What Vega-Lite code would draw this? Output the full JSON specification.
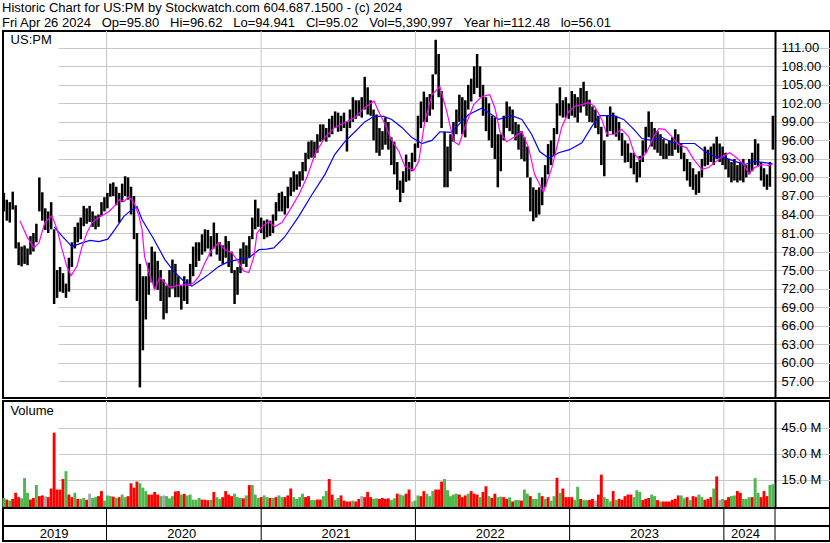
{
"$schema": "https://vega.github.io/schema/vega-lite/v6.json",
"background": "white",
"padding": {"left": 1, "top": 2, "right": 0, "bottom": 0},
"config": {
  "view": {"stroke": "black", "strokeWidth": 2},
  "axis": {"labelFont": "Liberation Sans", "labelFontSize": 13, "labelColor": "black", "gridColor": "#c8c8c8", "gridWidth": 1, "ticks": false, "labelOverlap": false},
  "text": {"font": "Liberation Sans"}
},
"title": {
  "text": "Historic Chart for US:PM by Stockwatch.com 604.687.1500 - (c) 2024",
  "subtitle": "Fri Apr 26 2024\u00a0\u00a0\u00a0Op=95.80\u00a0\u00a0\u00a0Hi=96.62\u00a0\u00a0\u00a0Lo=94.941\u00a0\u00a0\u00a0Cl=95.02\u00a0\u00a0\u00a0Vol=5,390,997\u00a0\u00a0\u00a0Year hi=112.48\u00a0\u00a0\u00a0lo=56.01",
  "anchor": "start", "frame": "group", "font": "Liberation Sans", "fontSize": 13, "fontWeight": "normal", "color": "black",
  "subtitleFont": "Liberation Sans", "subtitleFontSize": 13, "subtitleColor": "black", "subtitlePadding": 1.5, "offset": 0, "dx": -1
},
"datasets": {
  "w": [
{"d":"2019-05-03","h":87.5,"l":84.5,"v":4.5,"c":"g"},
{"d":"2019-05-10","h":86.4,"l":83.0,"v":3.6,"c":"r"},
{"d":"2019-05-17","h":86.0,"l":82.7,"v":3.0,"c":"g"},
{"d":"2019-05-24","h":87.7,"l":84.8,"v":4.0,"c":"r"},
{"d":"2019-05-31","h":85.5,"l":78.5,"v":7.5,"c":"r"},
{"d":"2019-06-07","h":79.5,"l":75.8,"v":5.0,"c":"r"},
{"d":"2019-06-14","h":78.8,"l":75.6,"v":4.3,"c":"g"},
{"d":"2019-06-21","h":79.0,"l":76.0,"v":16.0,"c":"g"},
{"d":"2019-06-28","h":78.5,"l":75.8,"v":7.5,"c":"g"},
{"d":"2019-07-05","h":80.5,"l":77.5,"v":3.6,"c":"r"},
{"d":"2019-07-12","h":81.0,"l":78.0,"v":4.5,"c":"r"},
{"d":"2019-07-19","h":82.5,"l":79.5,"v":12.0,"c":"g"},
{"d":"2019-07-26","h":90.0,"l":84.5,"v":5.6,"c":"r"},
{"d":"2019-08-02","h":87.6,"l":83.0,"v":6.0,"c":"r"},
{"d":"2019-08-09","h":85.0,"l":81.5,"v":5.5,"c":"n"},
{"d":"2019-08-16","h":84.5,"l":81.0,"v":5.0,"c":"r"},
{"d":"2019-08-23","h":86.0,"l":81.6,"v":10.0,"c":"r"},
{"d":"2019-08-30","h":81.6,"l":69.5,"v":42.3,"c":"r"},
{"d":"2019-09-06","h":75.0,"l":70.5,"v":9.4,"c":"r"},
{"d":"2019-09-13","h":75.5,"l":71.5,"v":9.4,"c":"r"},
{"d":"2019-09-20","h":74.5,"l":71.3,"v":15.5,"c":"r"},
{"d":"2019-09-27","h":72.8,"l":70.5,"v":20.0,"c":"g"},
{"d":"2019-10-04","h":77.0,"l":71.5,"v":6.5,"c":"r"},
{"d":"2019-10-11","h":79.5,"l":75.5,"v":5.0,"c":"r"},
{"d":"2019-10-18","h":82.0,"l":78.5,"v":7.5,"c":"g"},
{"d":"2019-10-25","h":82.7,"l":79.5,"v":4.0,"c":"r"},
{"d":"2019-11-01","h":83.5,"l":80.0,"v":4.0,"c":"g"},
{"d":"2019-11-08","h":85.4,"l":82.1,"v":4.5,"c":"g"},
{"d":"2019-11-15","h":85.0,"l":82.5,"v":3.5,"c":"r"},
{"d":"2019-11-22","h":85.4,"l":82.8,"v":7.0,"c":"n"},
{"d":"2019-11-29","h":84.5,"l":82.0,"v":4.5,"c":"g"},
{"d":"2019-12-06","h":83.8,"l":81.6,"v":5.0,"c":"g"},
{"d":"2019-12-13","h":84.0,"l":82.0,"v":5.6,"c":"r"},
{"d":"2019-12-20","h":86.0,"l":83.8,"v":8.5,"c":"r"},
{"d":"2019-12-27","h":86.8,"l":84.5,"v":3.0,"c":"g"},
{"d":"2020-01-03","h":87.5,"l":85.0,"v":6.0,"c":"g"},
{"d":"2020-01-10","h":89.0,"l":86.9,"v":5.6,"c":"g"},
{"d":"2020-01-17","h":89.2,"l":87.0,"v":5.3,"c":"r"},
{"d":"2020-01-24","h":88.5,"l":85.5,"v":4.5,"c":"g"},
{"d":"2020-01-31","h":87.5,"l":82.7,"v":5.0,"c":"r"},
{"d":"2020-02-07","h":89.0,"l":86.0,"v":6.5,"c":"g"},
{"d":"2020-02-14","h":90.2,"l":87.0,"v":5.0,"c":"g"},
{"d":"2020-02-21","h":90.0,"l":86.4,"v":5.6,"c":"r"},
{"d":"2020-02-28","h":88.5,"l":84.0,"v":13.0,"c":"r"},
{"d":"2020-03-06","h":87.0,"l":80.0,"v":10.5,"c":"r"},
{"d":"2020-03-13","h":81.0,"l":70.0,"v":14.0,"c":"r"},
{"d":"2020-03-20","h":76.0,"l":56.0,"v":13.0,"c":"g"},
{"d":"2020-03-27","h":74.0,"l":62.0,"v":10.5,"c":"g"},
{"d":"2020-04-03","h":74.0,"l":67.0,"v":8.5,"c":"g"},
{"d":"2020-04-10","h":76.2,"l":71.0,"v":6.5,"c":"r"},
{"d":"2020-04-17","h":78.8,"l":73.0,"v":6.5,"c":"r"},
{"d":"2020-04-24","h":78.0,"l":72.0,"v":8.0,"c":"r"},
{"d":"2020-05-01","h":76.5,"l":71.8,"v":6.5,"c":"r"},
{"d":"2020-05-08","h":75.0,"l":70.0,"v":5.6,"c":"g"},
{"d":"2020-05-15","h":73.5,"l":67.0,"v":6.0,"c":"n"},
{"d":"2020-05-22","h":72.5,"l":68.0,"v":5.6,"c":"g"},
{"d":"2020-05-29","h":75.0,"l":70.6,"v":4.3,"c":"g"},
{"d":"2020-06-05","h":76.7,"l":72.0,"v":5.6,"c":"g"},
{"d":"2020-06-12","h":76.0,"l":70.6,"v":8.3,"c":"r"},
{"d":"2020-06-19","h":74.0,"l":70.6,"v":8.5,"c":"r"},
{"d":"2020-06-26","h":72.5,"l":68.6,"v":6.5,"c":"g"},
{"d":"2020-07-03","h":74.0,"l":70.0,"v":6.9,"c":"r"},
{"d":"2020-07-10","h":73.5,"l":69.5,"v":6.0,"c":"g"},
{"d":"2020-07-17","h":76.0,"l":72.5,"v":6.5,"c":"g"},
{"d":"2020-07-24","h":78.8,"l":74.0,"v":3.6,"c":"g"},
{"d":"2020-07-31","h":79.5,"l":75.5,"v":3.5,"c":"g"},
{"d":"2020-08-07","h":79.5,"l":76.5,"v":4.5,"c":"g"},
{"d":"2020-08-14","h":80.8,"l":77.5,"v":3.6,"c":"r"},
{"d":"2020-08-21","h":81.6,"l":78.0,"v":3.5,"c":"r"},
{"d":"2020-08-28","h":81.5,"l":78.5,"v":3.2,"c":"r"},
{"d":"2020-09-04","h":80.5,"l":77.2,"v":3.5,"c":"g"},
{"d":"2020-09-11","h":82.7,"l":78.5,"v":8.0,"c":"r"},
{"d":"2020-09-18","h":81.0,"l":77.5,"v":5.0,"c":"g"},
{"d":"2020-09-25","h":79.5,"l":76.5,"v":4.0,"c":"g"},
{"d":"2020-10-02","h":79.0,"l":76.0,"v":5.0,"c":"r"},
{"d":"2020-10-09","h":80.5,"l":77.0,"v":8.5,"c":"r"},
{"d":"2020-10-16","h":79.7,"l":75.5,"v":6.5,"c":"r"},
{"d":"2020-10-23","h":78.0,"l":74.5,"v":5.6,"c":"r"},
{"d":"2020-10-30","h":75.0,"l":69.5,"v":7.0,"c":"g"},
{"d":"2020-11-06","h":75.5,"l":71.0,"v":5.0,"c":"g"},
{"d":"2020-11-13","h":78.5,"l":74.5,"v":4.5,"c":"g"},
{"d":"2020-11-20","h":79.5,"l":76.0,"v":4.3,"c":"r"},
{"d":"2020-11-27","h":79.0,"l":75.5,"v":6.0,"c":"g"},
{"d":"2020-12-04","h":80.5,"l":77.0,"v":12.0,"c":"r"},
{"d":"2020-12-11","h":83.5,"l":80.0,"v":12.0,"c":"g"},
{"d":"2020-12-18","h":86.4,"l":81.6,"v":6.5,"c":"g"},
{"d":"2020-12-25","h":85.0,"l":82.0,"v":4.5,"c":"g"},
{"d":"2021-01-01","h":83.5,"l":81.0,"v":5.0,"c":"r"},
{"d":"2021-01-08","h":83.0,"l":80.0,"v":6.0,"c":"g"},
{"d":"2021-01-15","h":83.2,"l":80.3,"v":5.0,"c":"g"},
{"d":"2021-01-22","h":83.0,"l":80.5,"v":4.5,"c":"r"},
{"d":"2021-01-29","h":84.0,"l":81.0,"v":4.5,"c":"g"},
{"d":"2021-02-05","h":86.0,"l":83.0,"v":5.0,"c":"r"},
{"d":"2021-02-12","h":87.5,"l":84.5,"v":6.0,"c":"g"},
{"d":"2021-02-19","h":87.7,"l":84.5,"v":5.0,"c":"g"},
{"d":"2021-02-26","h":87.0,"l":84.0,"v":5.0,"c":"r"},
{"d":"2021-03-05","h":88.5,"l":85.0,"v":6.0,"c":"r"},
{"d":"2021-03-12","h":90.0,"l":87.0,"v":10.0,"c":"r"},
{"d":"2021-03-19","h":91.0,"l":87.7,"v":5.0,"c":"g"},
{"d":"2021-03-26","h":90.5,"l":88.0,"v":4.0,"c":"g"},
{"d":"2021-04-02","h":91.0,"l":88.5,"v":5.0,"c":"g"},
{"d":"2021-04-09","h":92.5,"l":89.5,"v":7.0,"c":"g"},
{"d":"2021-04-16","h":94.0,"l":91.0,"v":5.0,"c":"r"},
{"d":"2021-04-23","h":95.8,"l":93.0,"v":5.6,"c":"r"},
{"d":"2021-04-30","h":96.0,"l":93.2,"v":3.3,"c":"g"},
{"d":"2021-05-07","h":95.8,"l":93.2,"v":3.3,"c":"g"},
{"d":"2021-05-14","h":97.0,"l":94.0,"v":3.6,"c":"r"},
{"d":"2021-05-21","h":98.6,"l":95.8,"v":3.6,"c":"r"},
{"d":"2021-05-28","h":98.6,"l":96.0,"v":5.6,"c":"g"},
{"d":"2021-06-04","h":98.0,"l":95.8,"v":8.5,"c":"g"},
{"d":"2021-06-11","h":99.5,"l":96.5,"v":15.5,"c":"r"},
{"d":"2021-06-18","h":100.0,"l":97.0,"v":6.5,"c":"r"},
{"d":"2021-06-25","h":100.7,"l":98.0,"v":3.5,"c":"g"},
{"d":"2021-07-02","h":100.5,"l":97.4,"v":4.5,"c":"g"},
{"d":"2021-07-09","h":100.0,"l":97.5,"v":6.0,"c":"r"},
{"d":"2021-07-16","h":100.5,"l":98.0,"v":3.0,"c":"r"},
{"d":"2021-07-23","h":99.0,"l":94.2,"v":2.5,"c":"r"},
{"d":"2021-07-30","h":101.0,"l":98.0,"v":2.5,"c":"r"},
{"d":"2021-08-06","h":103.0,"l":99.0,"v":3.0,"c":"g"},
{"d":"2021-08-13","h":102.5,"l":99.5,"v":2.5,"c":"r"},
{"d":"2021-08-20","h":102.5,"l":100.0,"v":4.0,"c":"r"},
{"d":"2021-08-27","h":103.0,"l":99.7,"v":5.6,"c":"n"},
{"d":"2021-09-03","h":106.3,"l":101.0,"v":5.0,"c":"r"},
{"d":"2021-09-10","h":104.6,"l":100.2,"v":8.0,"c":"r"},
{"d":"2021-09-17","h":102.5,"l":100.0,"v":5.0,"c":"r"},
{"d":"2021-09-24","h":101.0,"l":96.0,"v":4.0,"c":"g"},
{"d":"2021-10-01","h":100.2,"l":94.0,"v":4.3,"c":"g"},
{"d":"2021-10-08","h":98.0,"l":93.5,"v":4.0,"c":"r"},
{"d":"2021-10-15","h":97.5,"l":94.5,"v":4.5,"c":"r"},
{"d":"2021-10-22","h":99.7,"l":95.3,"v":4.0,"c":"r"},
{"d":"2021-10-29","h":99.0,"l":94.5,"v":4.3,"c":"r"},
{"d":"2021-11-05","h":96.5,"l":92.0,"v":3.3,"c":"g"},
{"d":"2021-11-12","h":95.8,"l":90.5,"v":4.3,"c":"g"},
{"d":"2021-11-19","h":92.5,"l":88.0,"v":7.0,"c":"r"},
{"d":"2021-11-26","h":89.5,"l":86.0,"v":6.5,"c":"g"},
{"d":"2021-12-03","h":91.0,"l":87.5,"v":6.0,"c":"g"},
{"d":"2021-12-10","h":93.7,"l":89.3,"v":7.0,"c":"r"},
{"d":"2021-12-17","h":92.5,"l":89.5,"v":9.4,"c":"r"},
{"d":"2021-12-24","h":94.0,"l":91.0,"v":2.5,"c":"n"},
{"d":"2021-12-31","h":95.5,"l":92.5,"v":3.0,"c":"g"},
{"d":"2022-01-07","h":100.0,"l":94.8,"v":6.0,"c":"g"},
{"d":"2022-01-14","h":102.3,"l":98.0,"v":5.6,"c":"r"},
{"d":"2022-01-21","h":103.9,"l":99.0,"v":8.5,"c":"r"},
{"d":"2022-01-28","h":103.0,"l":99.0,"v":7.0,"c":"g"},
{"d":"2022-02-04","h":103.5,"l":100.0,"v":5.6,"c":"g"},
{"d":"2022-02-11","h":106.7,"l":101.0,"v":8.5,"c":"g"},
{"d":"2022-02-18","h":112.3,"l":106.7,"v":9.4,"c":"r"},
{"d":"2022-02-25","h":110.0,"l":103.0,"v":9.4,"c":"r"},
{"d":"2022-03-04","h":104.0,"l":98.0,"v":14.0,"c":"r"},
{"d":"2022-03-11","h":97.4,"l":88.4,"v":15.5,"c":"g"},
{"d":"2022-03-18","h":95.0,"l":88.4,"v":9.0,"c":"g"},
{"d":"2022-03-25","h":97.0,"l":91.0,"v":5.6,"c":"g"},
{"d":"2022-04-01","h":99.0,"l":95.8,"v":6.5,"c":"g"},
{"d":"2022-04-08","h":101.0,"l":97.0,"v":7.0,"c":"g"},
{"d":"2022-04-15","h":103.4,"l":99.0,"v":6.5,"c":"r"},
{"d":"2022-04-22","h":103.0,"l":97.0,"v":5.0,"c":"r"},
{"d":"2022-04-29","h":102.5,"l":96.5,"v":6.0,"c":"r"},
{"d":"2022-05-06","h":105.0,"l":101.0,"v":7.0,"c":"g"},
{"d":"2022-05-13","h":106.0,"l":102.3,"v":8.5,"c":"r"},
{"d":"2022-05-20","h":108.0,"l":103.5,"v":7.0,"c":"r"},
{"d":"2022-05-27","h":110.0,"l":104.5,"v":6.5,"c":"r"},
{"d":"2022-06-03","h":108.0,"l":103.0,"v":5.0,"c":"g"},
{"d":"2022-06-10","h":105.0,"l":100.0,"v":8.0,"c":"r"},
{"d":"2022-06-17","h":103.0,"l":97.5,"v":11.3,"c":"r"},
{"d":"2022-06-24","h":102.0,"l":96.0,"v":5.6,"c":"g"},
{"d":"2022-07-01","h":100.0,"l":94.8,"v":4.5,"c":"r"},
{"d":"2022-07-08","h":99.7,"l":93.0,"v":7.0,"c":"r"},
{"d":"2022-07-15","h":97.0,"l":88.4,"v":5.0,"c":"g"},
{"d":"2022-07-22","h":97.0,"l":91.0,"v":5.3,"c":"g"},
{"d":"2022-07-29","h":100.0,"l":96.0,"v":5.0,"c":"r"},
{"d":"2022-08-05","h":102.3,"l":98.0,"v":4.0,"c":"r"},
{"d":"2022-08-12","h":101.5,"l":97.5,"v":5.0,"c":"g"},
{"d":"2022-08-19","h":101.0,"l":97.0,"v":2.5,"c":"r"},
{"d":"2022-08-26","h":99.0,"l":96.0,"v":3.3,"c":"g"},
{"d":"2022-09-02","h":98.6,"l":94.5,"v":3.3,"c":"g"},
{"d":"2022-09-09","h":97.5,"l":93.0,"v":3.0,"c":"r"},
{"d":"2022-09-16","h":96.5,"l":92.6,"v":9.4,"c":"g"},
{"d":"2022-09-23","h":95.0,"l":90.0,"v":7.0,"c":"g"},
{"d":"2022-09-30","h":90.0,"l":84.5,"v":5.6,"c":"r"},
{"d":"2022-10-07","h":88.4,"l":82.9,"v":4.0,"c":"g"},
{"d":"2022-10-14","h":88.0,"l":83.5,"v":4.0,"c":"g"},
{"d":"2022-10-21","h":88.4,"l":84.0,"v":7.5,"c":"g"},
{"d":"2022-10-28","h":90.0,"l":85.5,"v":5.6,"c":"r"},
{"d":"2022-11-04","h":92.0,"l":88.4,"v":4.0,"c":"g"},
{"d":"2022-11-11","h":95.4,"l":90.5,"v":5.0,"c":"r"},
{"d":"2022-11-18","h":96.0,"l":92.0,"v":3.0,"c":"g"},
{"d":"2022-11-25","h":98.0,"l":93.5,"v":5.6,"c":"g"},
{"d":"2022-12-02","h":102.0,"l":97.0,"v":16.2,"c":"r"},
{"d":"2022-12-09","h":104.6,"l":100.0,"v":7.5,"c":"g"},
{"d":"2022-12-16","h":102.5,"l":99.7,"v":10.0,"c":"r"},
{"d":"2022-12-23","h":103.0,"l":99.7,"v":5.0,"c":"r"},
{"d":"2022-12-30","h":102.0,"l":99.5,"v":5.0,"c":"r"},
{"d":"2023-01-06","h":104.0,"l":100.0,"v":5.0,"c":"r"},
{"d":"2023-01-13","h":103.5,"l":99.7,"v":3.5,"c":"g"},
{"d":"2023-01-20","h":103.0,"l":98.9,"v":11.0,"c":"g"},
{"d":"2023-01-27","h":104.5,"l":100.5,"v":4.0,"c":"r"},
{"d":"2023-02-03","h":105.5,"l":101.5,"v":3.3,"c":"g"},
{"d":"2023-02-10","h":104.0,"l":100.0,"v":3.3,"c":"g"},
{"d":"2023-02-17","h":102.6,"l":99.0,"v":3.3,"c":"r"},
{"d":"2023-02-24","h":101.5,"l":98.9,"v":4.0,"c":"r"},
{"d":"2023-03-03","h":101.0,"l":98.0,"v":3.0,"c":"n"},
{"d":"2023-03-10","h":100.0,"l":97.0,"v":6.5,"c":"r"},
{"d":"2023-03-17","h":98.2,"l":92.0,"v":18.0,"c":"r"},
{"d":"2023-03-24","h":96.0,"l":90.2,"v":5.0,"c":"g"},
{"d":"2023-03-31","h":100.0,"l":96.6,"v":4.0,"c":"g"},
{"d":"2023-04-07","h":101.5,"l":97.5,"v":2.5,"c":"g"},
{"d":"2023-04-14","h":100.5,"l":97.0,"v":8.5,"c":"r"},
{"d":"2023-04-21","h":100.0,"l":96.6,"v":3.3,"c":"g"},
{"d":"2023-04-28","h":99.0,"l":96.0,"v":4.0,"c":"r"},
{"d":"2023-05-05","h":97.2,"l":93.5,"v":3.5,"c":"r"},
{"d":"2023-05-12","h":96.0,"l":92.4,"v":5.6,"c":"r"},
{"d":"2023-05-19","h":95.5,"l":92.5,"v":6.5,"c":"r"},
{"d":"2023-05-26","h":94.0,"l":91.5,"v":6.5,"c":"r"},
{"d":"2023-06-02","h":94.0,"l":90.5,"v":5.0,"c":"g"},
{"d":"2023-06-09","h":92.5,"l":89.2,"v":9.0,"c":"g"},
{"d":"2023-06-16","h":93.5,"l":90.0,"v":8.0,"c":"g"},
{"d":"2023-06-23","h":96.0,"l":92.5,"v":3.3,"c":"r"},
{"d":"2023-06-30","h":98.2,"l":94.0,"v":4.0,"c":"r"},
{"d":"2023-07-07","h":100.7,"l":96.5,"v":4.5,"c":"r"},
{"d":"2023-07-14","h":99.0,"l":95.0,"v":6.5,"c":"g"},
{"d":"2023-07-21","h":98.0,"l":94.5,"v":5.6,"c":"g"},
{"d":"2023-07-28","h":97.5,"l":94.0,"v":3.3,"c":"r"},
{"d":"2023-08-04","h":97.0,"l":93.5,"v":2.5,"c":"g"},
{"d":"2023-08-11","h":96.2,"l":93.0,"v":2.5,"c":"r"},
{"d":"2023-08-18","h":95.5,"l":93.0,"v":2.5,"c":"r"},
{"d":"2023-08-25","h":96.0,"l":93.5,"v":2.5,"c":"r"},
{"d":"2023-09-01","h":96.5,"l":93.5,"v":3.5,"c":"r"},
{"d":"2023-09-08","h":97.8,"l":94.5,"v":4.0,"c":"r"},
{"d":"2023-09-15","h":97.0,"l":94.0,"v":6.0,"c":"r"},
{"d":"2023-09-22","h":95.5,"l":93.0,"v":6.0,"c":"g"},
{"d":"2023-09-29","h":94.0,"l":91.0,"v":4.3,"c":"g"},
{"d":"2023-10-06","h":93.0,"l":89.5,"v":5.0,"c":"r"},
{"d":"2023-10-13","h":92.5,"l":88.5,"v":3.3,"c":"g"},
{"d":"2023-10-20","h":91.5,"l":88.0,"v":5.6,"c":"r"},
{"d":"2023-10-27","h":90.5,"l":87.2,"v":5.0,"c":"r"},
{"d":"2023-11-03","h":91.0,"l":87.5,"v":6.5,"c":"g"},
{"d":"2023-11-10","h":93.0,"l":90.0,"v":5.0,"c":"g"},
{"d":"2023-11-17","h":95.0,"l":91.8,"v":3.5,"c":"r"},
{"d":"2023-11-24","h":94.5,"l":92.0,"v":4.0,"c":"r"},
{"d":"2023-12-01","h":95.0,"l":92.5,"v":5.0,"c":"r"},
{"d":"2023-12-08","h":95.5,"l":92.0,"v":10.0,"c":"g"},
{"d":"2023-12-15","h":96.6,"l":93.0,"v":17.0,"c":"r"},
{"d":"2023-12-22","h":95.5,"l":92.5,"v":3.3,"c":"n"},
{"d":"2023-12-29","h":95.0,"l":92.0,"v":4.0,"c":"g"},
{"d":"2024-01-05","h":94.0,"l":91.3,"v":3.3,"c":"r"},
{"d":"2024-01-12","h":93.0,"l":90.0,"v":5.0,"c":"r"},
{"d":"2024-01-19","h":92.5,"l":89.2,"v":5.6,"c":"g"},
{"d":"2024-01-26","h":93.0,"l":89.5,"v":6.0,"c":"g"},
{"d":"2024-02-02","h":92.0,"l":89.2,"v":8.5,"c":"r"},
{"d":"2024-02-09","h":92.5,"l":89.5,"v":7.5,"c":"r"},
{"d":"2024-02-16","h":93.0,"l":89.2,"v":4.0,"c":"g"},
{"d":"2024-02-23","h":92.0,"l":90.0,"v":4.0,"c":"g"},
{"d":"2024-03-01","h":93.0,"l":90.5,"v":5.0,"c":"g"},
{"d":"2024-03-08","h":94.0,"l":91.0,"v":5.0,"c":"r"},
{"d":"2024-03-15","h":96.2,"l":92.0,"v":16.0,"c":"g"},
{"d":"2024-03-22","h":95.5,"l":91.8,"v":7.5,"c":"g"},
{"d":"2024-03-29","h":92.4,"l":89.5,"v":5.0,"c":"r"},
{"d":"2024-04-05","h":91.5,"l":88.5,"v":8.5,"c":"r"},
{"d":"2024-04-12","h":90.5,"l":88.0,"v":5.6,"c":"r"},
{"d":"2024-04-19","h":92.5,"l":88.5,"v":12.0,"c":"g"},
{"d":"2024-04-26","h":100.0,"l":94.5,"v":12.5,"c":"g"}
  ],
  "mg": [
{"d":"2019-06-10","p":83.0},{"d":"2019-06-27","p":80.4},{"d":"2019-07-13","p":78.6},{"d":"2019-07-25","p":79.4},
{"d":"2019-08-08","p":82.7},{"d":"2019-08-25","p":83.8},{"d":"2019-09-06","p":81.6},{"d":"2019-09-18","p":78.3},
{"d":"2019-09-29","p":75.6},{"d":"2019-10-09","p":74.1},{"d":"2019-10-23","p":75.6},{"d":"2019-11-04","p":78.8},
{"d":"2019-11-16","p":81.1},{"d":"2019-11-28","p":82.7},{"d":"2019-12-14","p":83.5},{"d":"2020-01-07","p":84.5},
{"d":"2020-01-19","p":85.3},{"d":"2020-01-31","p":86.4},{"d":"2020-02-11","p":86.1},{"d":"2020-02-23","p":86.9},
{"d":"2020-03-06","p":85.9},{"d":"2020-03-18","p":83.7},{"d":"2020-03-25","p":81.6},{"d":"2020-03-31","p":77.2},
{"d":"2020-04-13","p":74.0},{"d":"2020-04-24","p":71.9},{"d":"2020-05-06","p":73.8},{"d":"2020-05-18","p":73.0},
{"d":"2020-05-30","p":72.2},{"d":"2020-06-11","p":72.4},{"d":"2020-06-28","p":72.6},{"d":"2020-07-14","p":72.6},
{"d":"2020-07-26","p":73.0},{"d":"2020-08-07","p":74.0},{"d":"2020-08-21","p":76.2},{"d":"2020-09-06","p":78.3},
{"d":"2020-09-23","p":79.4},{"d":"2020-10-07","p":78.3},{"d":"2020-10-24","p":77.8},{"d":"2020-11-09","p":76.2},
{"d":"2020-11-21","p":74.8},{"d":"2020-12-03","p":74.6},{"d":"2020-12-15","p":77.2},{"d":"2020-12-22","p":81.0},
{"d":"2021-01-03","p":82.0},{"d":"2021-01-19","p":82.9},{"d":"2021-02-02","p":82.0},{"d":"2021-02-19","p":82.7},
{"d":"2021-03-08","p":84.5},{"d":"2021-03-31","p":87.2},{"d":"2021-04-19","p":90.0},{"d":"2021-05-08","p":93.7},
{"d":"2021-06-01","p":96.5},{"d":"2021-06-24","p":98.1},{"d":"2021-07-18","p":98.9},{"d":"2021-08-11","p":99.7},
{"d":"2021-09-03","p":101.3},{"d":"2021-09-25","p":102.4},{"d":"2021-10-06","p":100.7},{"d":"2021-10-21","p":98.6},
{"d":"2021-11-06","p":96.0},{"d":"2021-11-23","p":94.2},{"d":"2021-12-07","p":91.8},{"d":"2021-12-28","p":91.1},
{"d":"2022-01-09","p":92.6},{"d":"2022-01-23","p":99.0},{"d":"2022-02-09","p":103.4},{"d":"2022-02-28","p":104.7},
{"d":"2022-03-16","p":100.7},{"d":"2022-04-02","p":95.8},{"d":"2022-04-14","p":95.3},{"d":"2022-04-28","p":98.1},
{"d":"2022-05-19","p":101.8},{"d":"2022-06-07","p":103.1},{"d":"2022-06-26","p":103.4},{"d":"2022-07-08","p":101.3},
{"d":"2022-07-20","p":97.4},{"d":"2022-08-05","p":95.8},{"d":"2022-08-22","p":96.5},{"d":"2022-09-10","p":97.4},
{"d":"2022-09-26","p":94.8},{"d":"2022-10-10","p":90.5},{"d":"2022-10-31","p":87.6},{"d":"2022-11-20","p":91.6},
{"d":"2022-12-13","p":98.1},{"d":"2022-12-30","p":100.7},{"d":"2023-01-13","p":101.5},{"d":"2023-01-30","p":101.8},
{"d":"2023-02-15","p":102.1},{"d":"2023-03-01","p":101.5},{"d":"2023-03-18","p":99.4},{"d":"2023-03-30","p":97.0},
{"d":"2023-04-18","p":97.0},{"d":"2023-05-04","p":97.8},{"d":"2023-05-21","p":96.6},{"d":"2023-06-04","p":93.7},
{"d":"2023-06-16","p":92.9},{"d":"2023-07-02","p":94.0},{"d":"2023-07-19","p":96.6},{"d":"2023-07-31","p":97.9},
{"d":"2023-08-14","p":97.8},{"d":"2023-08-31","p":96.6},{"d":"2023-09-16","p":95.3},{"d":"2023-10-05","p":94.8},
{"d":"2023-10-22","p":92.9},{"d":"2023-11-10","p":91.3},{"d":"2023-11-26","p":91.6},{"d":"2023-12-10","p":92.4},
{"d":"2023-12-31","p":93.5},{"d":"2024-01-15","p":94.0},{"d":"2024-01-31","p":93.2},{"d":"2024-02-17","p":92.1},
{"d":"2024-02-29","p":90.6},{"d":"2024-03-14","p":91.6},{"d":"2024-03-31","p":92.1},{"d":"2024-04-16","p":91.9},
{"d":"2024-04-25","p":92.2}
  ],
  "bl": [
{"d":"2019-08-30","p":82.0},{"d":"2019-09-18","p":80.5},{"d":"2019-10-11","p":78.8},{"d":"2019-11-04","p":79.4},
{"d":"2019-11-23","p":79.8},{"d":"2019-12-14","p":79.6},{"d":"2020-01-04","p":80.0},{"d":"2020-01-21","p":81.6},
{"d":"2020-02-11","p":83.7},{"d":"2020-02-25","p":84.5},{"d":"2020-03-13","p":85.3},{"d":"2020-03-25","p":83.2},
{"d":"2020-04-22","p":80.0},{"d":"2020-05-18","p":76.7},{"d":"2020-06-11","p":74.6},{"d":"2020-07-05","p":73.0},
{"d":"2020-07-21","p":72.4},{"d":"2020-08-07","p":73.2},{"d":"2020-08-30","p":74.3},{"d":"2020-09-23","p":75.6},
{"d":"2020-10-17","p":76.4},{"d":"2020-11-09","p":76.7},{"d":"2020-12-03","p":77.0},{"d":"2020-12-27","p":78.3},
{"d":"2021-01-14","p":78.4},{"d":"2021-01-31","p":78.6},{"d":"2021-02-26","p":80.4},{"d":"2021-03-31","p":83.7},
{"d":"2021-05-01","p":87.2},{"d":"2021-06-01","p":90.5},{"d":"2021-06-24","p":93.7},{"d":"2021-07-18","p":95.8},
{"d":"2021-08-11","p":97.4},{"d":"2021-09-03","p":99.0},{"d":"2021-09-25","p":99.9},{"d":"2021-10-18","p":99.9},
{"d":"2021-11-06","p":99.4},{"d":"2021-11-30","p":98.1},{"d":"2021-12-23","p":96.5},{"d":"2022-01-16","p":95.5},
{"d":"2022-02-09","p":96.0},{"d":"2022-02-28","p":97.4},{"d":"2022-03-28","p":97.3},{"d":"2022-04-14","p":98.6},
{"d":"2022-05-07","p":100.2},{"d":"2022-06-07","p":101.2},{"d":"2022-06-30","p":100.2},{"d":"2022-07-17","p":99.4},
{"d":"2022-08-17","p":100.0},{"d":"2022-09-10","p":99.4},{"d":"2022-10-03","p":97.0},{"d":"2022-10-22","p":94.2},
{"d":"2022-11-13","p":93.1},{"d":"2022-12-06","p":94.0},{"d":"2023-01-01","p":94.5},{"d":"2023-01-30","p":95.6},
{"d":"2023-02-22","p":98.2},{"d":"2023-03-13","p":100.0},{"d":"2023-04-15","p":100.0},{"d":"2023-05-09","p":99.4},
{"d":"2023-06-02","p":97.8},{"d":"2023-06-21","p":96.3},{"d":"2023-07-14","p":96.0},{"d":"2023-08-07","p":96.5},
{"d":"2023-08-31","p":95.7},{"d":"2023-09-23","p":95.5},{"d":"2023-10-24","p":95.5},{"d":"2023-11-17","p":94.2},
{"d":"2023-12-10","p":93.4},{"d":"2024-01-03","p":93.2},{"d":"2024-01-27","p":92.6},{"d":"2024-02-19","p":92.1},
{"d":"2024-03-14","p":92.6},{"d":"2024-04-06","p":92.4},{"d":"2024-04-25","p":92.2}
  ],
  "yg": [{"d":"2020-01-01"},{"d":"2021-01-01"},{"d":"2022-01-01"},{"d":"2023-01-01"},{"d":"2024-01-01"}],
  "yb": [{"d":"2020-01-01"},{"d":"2021-01-01"},{"d":"2022-01-01"},{"d":"2023-01-01"},{"d":"2024-01-01"},{"d":"2024-05-01"}],
  "yl": [{"d":"2019-08-30","t":"2019"},{"d":"2020-06-27","t":"2020"},{"d":"2021-06-27","t":"2021"},{"d":"2022-06-27","t":"2022"},{"d":"2023-06-27","t":"2023"},{"d":"2024-02-21","t":"2024"}]
},
"spacing": 3,
"bounds": "flush",
"vconcat": [
  {
    "width": 827, "height": 367,
    "title": {"text": "US:PM", "anchor": "start", "offset": -16, "dx": 8, "fontSize": 13, "fontWeight": "normal", "font": "Liberation Sans", "color": "black"},
    "layer": [
      {"data": {"name": "yg"},
       "mark": {"type": "rule", "color": "#c8c8c8", "strokeWidth": 1},
       "encoding": {
         "x": {"field": "d", "type": "temporal",
               "scale": {"domain": [{"year":2019,"month":5,"date":1,"utc":true},{"year":2024,"month":5,"date":1,"utc":true}], "range": [0, 772]},
               "axis": null}
       }},
      {"data": {"name": "w"},
       "mark": {"type": "rule", "color": "black", "strokeWidth": 2.5},
       "encoding": {
         "x": {"field": "d", "type": "temporal"},
         "y": {"field": "l", "type": "quantitative",
               "scale": {"domain": [54.28, 113.72], "nice": false, "zero": false},
               "axis": {"title": null, "orient": "right", "offset": -55, "grid": true, "domain": true, "domainColor": "black", "domainWidth": 2, "labelPadding": 6, "format": ".2f", "labelOverlap": false, "labelBound": false, "tickCount": 30,
                        "values": [57,60,63,66,69,72,75,78,81,84,87,90,93,96,99,102,105,108,111]}},
         "y2": {"field": "h"}
       }},
      {"data": {"name": "bl"},
       "mark": {"type": "line", "color": "#0000ff", "strokeWidth": 1.2},
       "encoding": {"x": {"field": "d", "type": "temporal"}, "y": {"field": "p", "type": "quantitative"}}},
      {"data": {"name": "mg"},
       "mark": {"type": "line", "color": "#ff00ff", "strokeWidth": 1.2},
       "encoding": {"x": {"field": "d", "type": "temporal"}, "y": {"field": "p", "type": "quantitative"}}}
    ]
  },
  {
    "spacing": 0,
    "bounds": "flush",
    "vconcat": [
      {
        "width": 827, "height": 107,
        "title": {"text": "Volume", "anchor": "start", "offset": -17, "dx": 8, "fontSize": 13, "fontWeight": "normal", "font": "Liberation Sans", "color": "black"},
        "layer": [
          {"data": {"name": "yg"},
           "mark": {"type": "rule", "color": "#c8c8c8", "strokeWidth": 1},
           "encoding": {
             "x": {"field": "d", "type": "temporal",
                   "scale": {"domain": [{"year":2019,"month":5,"date":1,"utc":true},{"year":2024,"month":5,"date":1,"utc":true}], "range": [0, 772]},
                   "axis": null}
           }},
          {"data": {"name": "w"},
           "mark": {"type": "rule", "strokeWidth": 2.9},
           "encoding": {
             "x": {"field": "d", "type": "temporal"},
             "y": {"field": "v", "type": "quantitative",
                   "scale": {"domain": [-1.27, 60.58], "nice": false, "zero": false},
                   "axis": {"title": null, "orient": "right", "offset": -55, "grid": true, "domain": true, "domainColor": "black", "domainWidth": 2, "labelPadding": 6, "labelOverlap": false, "tickCount": 10,
                            "values": [15, 30, 45], "labelExpr": "format(datum.value, '.1f') + ' M'"}},
             "y2": {"datum": -1.27},
             "color": {"field": "c", "type": "nominal", "scale": {"domain": ["r", "g", "n"], "range": ["#ff0000", "#4cb84c", "#a8a8a8"]}, "legend": null}
           }}
        ]
      },
      {
        "width": 827, "height": 18,
        "data": {"name": "yb"},
        "mark": {"type": "rule", "color": "black", "strokeWidth": 1},
        "encoding": {
          "x": {"field": "d", "type": "temporal",
                "scale": {"domain": [{"year":2019,"month":5,"date":1,"utc":true},{"year":2024,"month":5,"date":1,"utc":true}], "range": [0, 772]},
                "axis": null}
        }
      },
      {
        "width": 827, "height": 15,
        "layer": [
          {"data": {"name": "yb"},
           "mark": {"type": "rule", "color": "black", "strokeWidth": 1},
           "encoding": {
             "x": {"field": "d", "type": "temporal",
                   "scale": {"domain": [{"year":2019,"month":5,"date":1,"utc":true},{"year":2024,"month":5,"date":1,"utc":true}], "range": [0, 772]},
                   "axis": null}
           }},
          {"data": {"name": "yl"},
           "mark": {"type": "text", "font": "Liberation Sans", "fontSize": 13, "color": "black", "baseline": "middle", "align": "center"},
           "encoding": {"x": {"field": "d", "type": "temporal"}, "text": {"field": "t"}}}
        ]
      }
    ]
  }
]
}
